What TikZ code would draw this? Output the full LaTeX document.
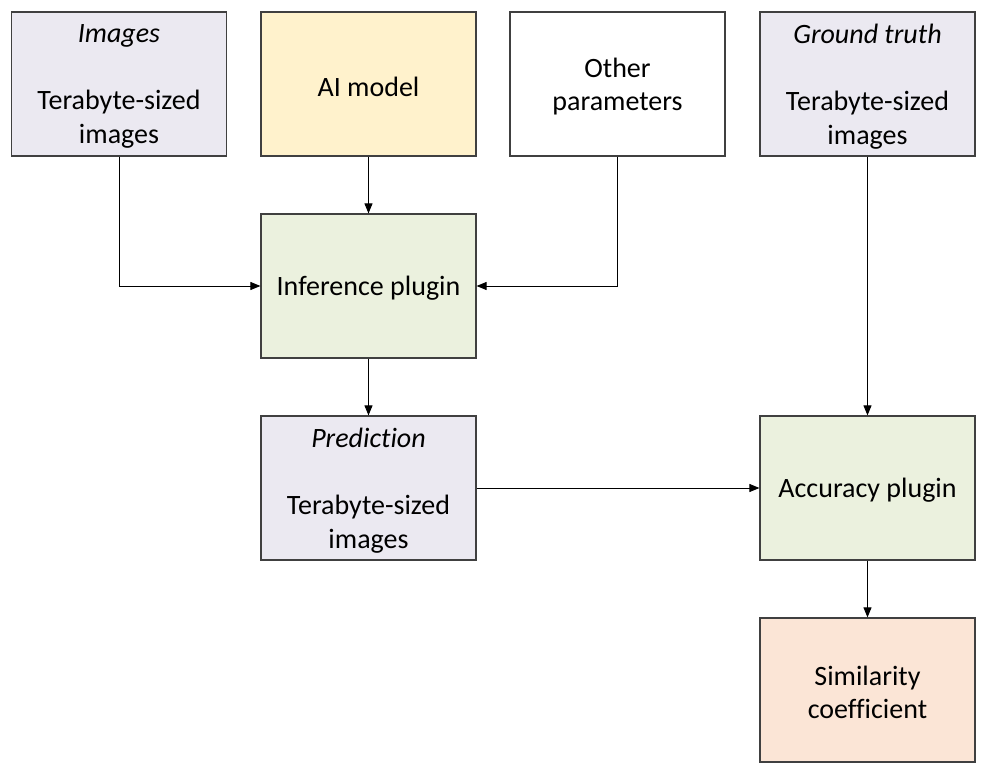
\documentclass[tikz,border=0pt]{standalone}
\usepackage{fontspec}
\setmainfont[Ligatures=NoCommon]{Carlito}
\usetikzlibrary{arrows.meta}
\definecolor{lav}{HTML}{EBE9F1}
\definecolor{gold}{HTML}{FFF2CC}
\definecolor{grn}{HTML}{EBF1DE}
\definecolor{peach}{HTML}{FBE5D6}
\definecolor{edge}{HTML}{404040}
\tikzset{
  box/.style={draw=edge, line width=1.2pt, minimum width=215pt, minimum height=144pt,
    inner sep=0pt},
  txt/.style={inner sep=0pt, align=center, font=\fontsize{28}{33.5}\selectfont, text=black},
  conn/.style={draw=black, line width=0.9pt, -{Triangle[length=10pt,width=8pt]}}
}
\begin{document}
\begin{tikzpicture}[x=1pt,y=-1pt]
\useasboundingbox (0,0) rectangle (986,773);
\node[box, fill=lav] (img) at (119,84) {};
\node[box, fill=gold] (ai) at (368.5,84) {};
\node[box, fill=white] (oth) at (617.5,84) {};
\node[box, fill=lav] (gt) at (867.5,84) {};
\node[box, fill=grn] (inf) at (368.5,286) {};
\node[box, fill=lav] (pred) at (368.5,488) {};
\node[box, fill=grn] (acc) at (867.5,488) {};
\node[box, fill=peach] (sim) at (867.5,690) {};
\node[txt] (imgT) at ([yshift=-2.5pt]img.center) {\textit{Images}\\[33.5pt]Terabyte-sized\\images};
\node[txt] (aiT) at ([yshift=-2.5pt]ai.center) {AI model};
\node[txt] (othT) at ([yshift=-2.5pt]oth.center) {Other\\parameters};
\node[txt] (gtT) at ([yshift=-2.5pt]gt.center) {\textit{Ground truth}\\[33.5pt]Terabyte-sized\\images};
\node[txt] (infT) at ([yshift=-2.5pt]inf.center) {Inference plugin};
\node[txt] (predT) at ([yshift=-2.5pt]pred.center) {\textit{Prediction}\\[33.5pt]Terabyte-sized\\images};
\node[txt] (accT) at ([yshift=-2.5pt]acc.center) {Accuracy plugin};
\node[txt] (simT) at ([yshift=-2.5pt]sim.center) {Similarity\\coefficient};
\draw[conn] (img.south) |- (inf.west);
\draw[conn] (oth.south) |- (inf.east);
\draw[conn] (ai) -- (inf);
\draw[conn] (inf) -- (pred);
\draw[conn] (pred) -- (acc);
\draw[conn] (gt) -- (acc);
\draw[conn] (acc) -- (sim);
\end{tikzpicture}
\end{document}
